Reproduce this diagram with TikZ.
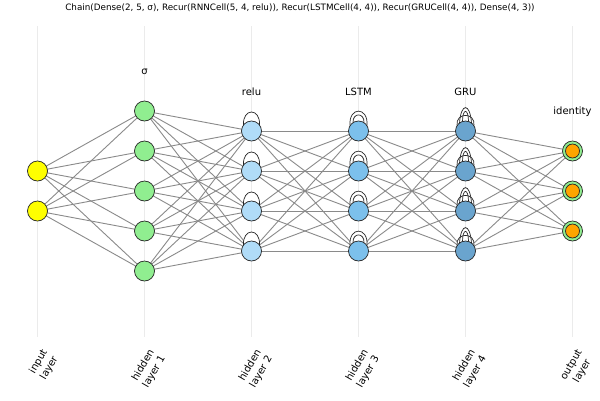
\documentclass[tikz,border=0pt]{standalone}
\usepackage{fontspec}
\setmainfont{DejaVu Sans}
\pgfdeclarelayer{bg}
\pgfdeclarelayer{mid}
\pgfsetlayers{bg,mid,main}
\definecolor{inyel}{HTML}{FFFF00}
\definecolor{hgreen}{HTML}{90EE90}
\definecolor{hblueA}{HTML}{B0DCF8}
\definecolor{hblueB}{HTML}{7CC0EC}
\definecolor{hblueC}{HTML}{6AA4CE}
\definecolor{outor}{HTML}{FFA500}
\definecolor{conncol}{HTML}{8A8A8A}
\definecolor{gridcol}{HTML}{EBEBEB}
\begin{document}
\begin{tikzpicture}[x=1pt,y=-1pt,
  neuron/.style={circle,draw=black!85,line width=0.7pt,minimum size=20pt,inner sep=0pt},
  innerneuron/.style={circle,draw=black!85,line width=0.7pt,minimum size=14pt,inner sep=0pt,fill=outor},
  conn/.style={draw=conncol,line width=0.9pt},
  gridl/.style={draw=gridcol,line width=0.6pt},
  loopl/.style={draw=black!85,line width=0.7pt},
  layerlab/.style={font=\fontsize{10}{12}\selectfont,inner sep=0pt},
  axlab/.style={font=\fontsize{10}{12.5}\selectfont,rotate=60,anchor=east,align=center,inner sep=0pt},
  titlelab/.style={font=\fontsize{8.8}{10}\selectfont,inner sep=0pt}
]
\useasboundingbox (0,0) rectangle (600,400);

% nodes
\foreach \j/\yy in {1/171,2/211} \node[neuron,fill=inyel] (i\j) at (37.5,\yy) {};
\foreach \j/\yy in {1/111,2/151,3/191,4/231,5/271} \node[neuron,fill=hgreen] (a\j) at (144.5,\yy) {};
\foreach \j/\yy in {1/131,2/171,3/211,4/251} {
  \node[neuron,fill=hblueA] (b\j) at (251.5,\yy) {};
  \node[neuron,fill=hblueB] (c\j) at (358.5,\yy) {};
  \node[neuron,fill=hblueC] (d\j) at (465.5,\yy) {};
}
\foreach \j/\yy in {1/151,2/191,3/231} {
  \node[neuron,fill=hgreen] (o\j) at (572.5,\yy) {};
  \node[innerneuron] (oi\j) at (o\j.center) {};
}

% labels
\node[titlelab] (title) at (300,8) {Chain(Dense(2, 5, σ), Recur(RNNCell(5, 4, relu)), Recur(LSTMCell(4, 4)), Recur(GRUCell(4, 4)), Dense(4, 3))};
\node[layerlab] (l1) at (144.5,72) {σ};
\node[layerlab] (l2) at (251.5,92) {relu};
\node[layerlab] (l3) at (358.5,92) {LSTM};
\node[layerlab] (l4) at (465.5,92) {GRU};
\node[layerlab] (l5) at (572.5,112) {identity};

\node[axlab] (x0) at (50.5,353.5) {input\\layer};
\node[axlab] (x1) at (157.5,353.5) {hidden\\layer 1};
\node[axlab] (x2) at (264.5,353.5) {hidden\\layer 2};
\node[axlab] (x3) at (371.5,353.5) {hidden\\layer 3};
\node[axlab] (x4) at (478.5,353.5) {hidden\\layer 4};
\node[axlab] (x5) at (585.5,353.5) {output\\layer};

% grid and connections
\begin{pgfonlayer}{bg}
\fill[white] (0,0) rectangle (600,400);
\foreach \x in {37.5,144.5,251.5,358.5,465.5,572.5} \draw[gridl] (\x,26) -- (\x,337);
\foreach \a in {1,2} \foreach \b in {1,...,5} \draw[conn] (i\a.center) -- (a\b.center);
\foreach \a in {1,...,5} \foreach \b in {1,...,4} \draw[conn] (a\a.center) -- (b\b.center);
\foreach \a in {1,...,4} \foreach \b in {1,...,4} {
  \draw[conn] (b\a.center) -- (c\b.center);
  \draw[conn] (c\a.center) -- (d\b.center);
}
\foreach \a in {1,...,4} \foreach \b in {1,2,3} \draw[conn] (d\a.center) -- (o\b.center);
\end{pgfonlayer}

% recurrent loops
\begin{pgfonlayer}{mid}
\foreach \j in {1,...,4} {
  % RNN
  \begin{scope}[shift={(b\j.center)}]
    \fill[white] (-8,-6) .. controls (-9,-23.3) and (9,-23.3) .. (8,-6) -- cycle;
    \draw[loopl] (-8,-6) .. controls (-9,-23.3) and (9,-23.3) .. (8,-6);
  \end{scope}
  % LSTM
  \begin{scope}[shift={(c\j.center)}]
    \fill[white] (-8.5,-5.5) .. controls (-10,-24.7) and (10,-24.7) .. (8.5,-5.5) -- cycle;
    \draw[loopl] (-8.5,-5.5) .. controls (-10,-24.7) and (10,-24.7) .. (8.5,-5.5);
    \draw[loopl] (-5.5,-8.3) .. controls (-6,-18.7) and (6,-18.7) .. (5.5,-8.3);
  \end{scope}
  % GRU
  \begin{scope}[shift={(d\j.center)}]
    \fill[white] (-8.5,-5.5) .. controls (-10,-19) and (10,-19) .. (8.5,-5.5) -- cycle;
    \fill[white] (-6,-8) .. controls (-4.5,-28.5) and (4.5,-28.5) .. (6,-8) -- cycle;
    \draw[loopl] (-8.5,-5.5) .. controls (-10,-19) and (10,-19) .. (8.5,-5.5);
    \draw[loopl] (-6,-8) .. controls (-4.5,-28.5) and (4.5,-28.5) .. (6,-8);
    \draw[loopl] (-3,-9.5) .. controls (-3,-23) and (3,-23) .. (3,-9.5);
  \end{scope}
}
\end{pgfonlayer}
\end{tikzpicture}
\end{document}
